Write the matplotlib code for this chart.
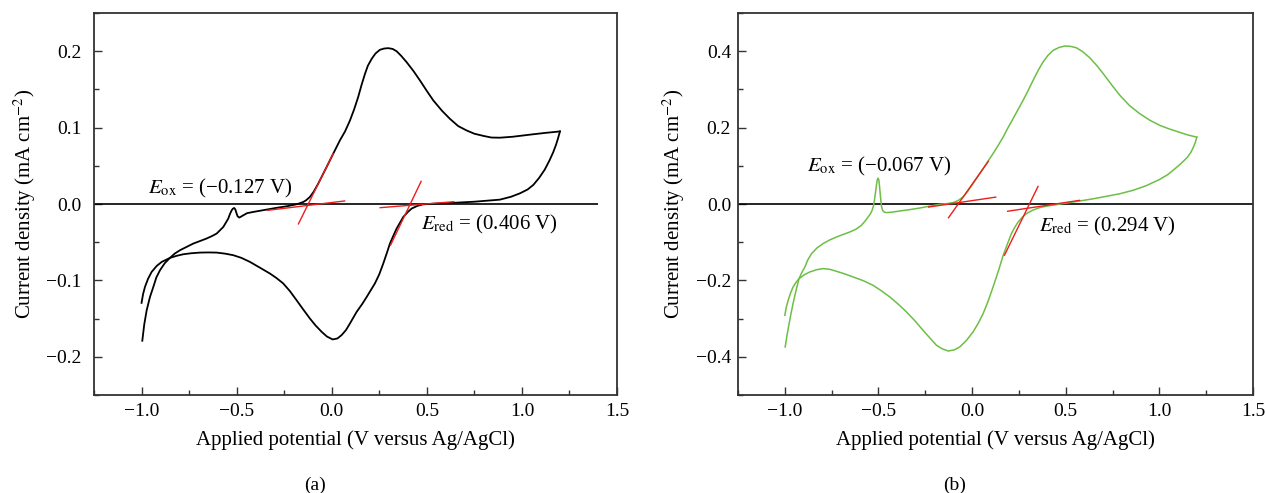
import matplotlib
matplotlib.use('agg')
import matplotlib.pyplot as plt
from matplotlib.ticker import MultipleLocator

plt.rcParams['font.family'] = ['Liberation Serif', 'DejaVu Serif']
plt.rcParams['mathtext.fontset'] = 'stix'

# ---- panel (a): black CV ----
# upper branch, from the right vertex back to -1.0 V
a_top_x = [1.2, 1.16, 1.12, 1.05, 0.95, 0.884, 0.84, 0.8, 0.75, 0.709, 0.665, 0.621, 0.58,
           0.534, 0.5, 0.464, 0.43, 0.394, 0.365, 0.341, 0.32, 0.297, 0.275, 0.253, 0.23,
           0.21, 0.19, 0.175, 0.157, 0.139, 0.118, 0.096, 0.07, 0.043, 0.008, -0.027, -0.071,
           -0.095, -0.115, -0.135, -0.15, -0.185, -0.237, -0.29, -0.342, -0.413, -0.445, -0.465,
           -0.486, -0.495, -0.5, -0.507, -0.513, -0.52, -0.526, -0.535, -0.544, -0.57, -0.605,
           -0.63, -0.658, -0.728, -0.798, -0.826, -0.851, -0.878, -0.903, -0.922, -0.938, -0.956,
           -0.973, -0.986, -0.996]
a_top_y = [0.095, 0.094, 0.093, 0.091, 0.088, 0.0868, 0.087, 0.089, 0.092, 0.0963, 0.102, 0.1116, 0.122,
           0.1356, 0.148, 0.1617, 0.174, 0.1856, 0.194, 0.200, 0.203, 0.204, 0.2035, 0.2018, 0.197,
           0.190, 0.181, 0.1705, 0.156, 0.140, 0.124, 0.1094, 0.095, 0.0833, 0.0659, 0.0484, 0.0267,
           0.016, 0.0092, 0.0048, 0.0026, -0.0004, -0.003, -0.005, -0.0073, -0.0104, -0.012, -0.0148,
           -0.0178, -0.016, -0.0126, -0.007, -0.0052, -0.0062, -0.0082, -0.013, -0.0191, -0.030, -0.0387,
           -0.042, -0.0452, -0.0518, -0.0605, -0.065, -0.0706, -0.0775, -0.0867, -0.096, -0.1085, -0.122,
           -0.139, -0.158, -0.179]
# lower branch, from -1.0 V to the right vertex
a_bot_x = [-1.0, -0.992, -0.982, -0.966, -0.947, -0.92, -0.894, -0.851, -0.815, -0.781, -0.74,
           -0.693, -0.65, -0.605, -0.56, -0.518, -0.475, -0.43, -0.38, -0.325, -0.29, -0.255,
           -0.22, -0.185, -0.15, -0.115, -0.085, -0.053, -0.025, 0.005, 0.03, 0.052, 0.075,
           0.096, 0.131, 0.16, 0.184, 0.205, 0.227, 0.25, 0.271, 0.29, 0.306, 0.325, 0.341,
           0.36, 0.376, 0.4, 0.42, 0.45, 0.481, 0.55, 0.621, 0.75, 0.884, 0.943, 0.99, 1.03,
           1.06, 1.09, 1.12, 1.145, 1.165, 1.18, 1.19, 1.2]
a_bot_y = [-0.1294, -0.118, -0.1085, -0.098, -0.0889, -0.081, -0.0758, -0.0706, -0.0678, -0.0658, -0.0645,
           -0.0636, -0.0634, -0.0636, -0.065, -0.067, -0.0705, -0.0758, -0.083, -0.091, -0.097, -0.104,
           -0.114, -0.1259, -0.138, -0.1498, -0.159, -0.1673, -0.1735, -0.1773, -0.176, -0.1716, -0.165,
           -0.1563, -0.1412, -0.131, -0.1216, -0.113, -0.104, -0.092, -0.0779, -0.064, -0.0518, -0.041, -0.0322,
           -0.024, -0.017, -0.0105, -0.006, -0.0025, -0.0004, 0.0006, 0.0013, 0.003, 0.0057, 0.0095, 0.014, 0.019,
           0.025, 0.034, 0.045, 0.057, 0.068, 0.078, 0.086, 0.095]
# tangent construction lines (start, end)
a_ox_steep_x = [-0.175, 0.0075]
a_ox_steep_y = [-0.026, 0.066]
a_ox_base_x = [-0.337, 0.068]
a_ox_base_y = [-0.0083, 0.004]
a_red_steep_x = [0.309, 0.47]
a_red_steep_y = [-0.054, 0.0296]
a_red_base_x = [0.255, 0.642]
a_red_base_y = [-0.0048, 0.003]

# ---- panel (b): green CV ----
b_top_x = [1.2, 1.15, 1.1, 1.05, 1.002, 0.95, 0.895, 0.84, 0.789, 0.745, 0.7, 0.665, 0.628,
           0.59, 0.557, 0.525, 0.495, 0.465, 0.432, 0.405, 0.379, 0.352, 0.326, 0.3, 0.272,
           0.245, 0.219, 0.19, 0.166, 0.14, 0.112, 0.085, 0.059, 0.032, 0.005, -0.022, -0.048,
           -0.075, -0.101, -0.135, -0.172, -0.225, -0.279, -0.33, -0.386, -0.43, -0.457, -0.47,
           -0.478, -0.484, -0.489, -0.494, -0.498, -0.502, -0.507, -0.512, -0.519, -0.526, -0.535,
           -0.545, -0.555, -0.572, -0.591, -0.62, -0.653, -0.69, -0.724, -0.76, -0.796, -0.828,
           -0.857, -0.877, -0.893, -0.91, -0.924, -0.94, -0.956, -0.967, -0.977, -0.988, -0.998]
b_top_y = [0.175, 0.181, 0.189, 0.197, 0.206, 0.219, 0.2366, 0.258, 0.2846, 0.312, 0.3414, 0.363, 0.383,
           0.399, 0.409, 0.4128, 0.4136, 0.410, 0.402, 0.389, 0.372, 0.349, 0.324, 0.298, 0.271,
           0.247, 0.2236, 0.198, 0.1754, 0.154, 0.132, 0.112, 0.0927, 0.073, 0.0534, 0.034, 0.0183,
           0.009, 0.0037, 0.001, -0.0008, -0.0055, -0.0105, -0.0145, -0.0183, -0.0215, -0.0225, -0.021,
           -0.0165, -0.005, 0.0183, 0.045, 0.063, 0.0675, 0.062, 0.045, 0.0183, -0.004, -0.018,
           -0.027, -0.034, -0.045, -0.0558, -0.066, -0.0733, -0.080, -0.0864, -0.094, -0.1037, -0.115,
           -0.1298, -0.146, -0.165, -0.180, -0.1953, -0.226, -0.2607, -0.287, -0.313, -0.343, -0.3743]
b_bot_x = [-1.0, -0.992, -0.982, -0.97, -0.956, -0.94, -0.924, -0.895, -0.867, -0.83, -0.796,
           -0.76, -0.724, -0.68, -0.635, -0.58, -0.529, -0.485, -0.439, -0.395, -0.35, -0.305,
           -0.262, -0.225, -0.19, -0.16, -0.128, -0.096, -0.066, -0.03, 0.005, 0.032, 0.059,
           0.085, 0.112, 0.14, 0.166, 0.19, 0.21, 0.228, 0.246, 0.268, 0.29, 0.325, 0.361,
           0.405, 0.451, 0.51, 0.575, 0.645, 0.718, 0.79, 0.86, 0.93, 1.0, 1.045, 1.085, 1.12,
           1.149, 1.168, 1.181, 1.192, 1.2]
b_bot_y = [-0.2914, -0.270, -0.2521, -0.234, -0.2173, -0.205, -0.1953, -0.185, -0.178, -0.172, -0.1691,
           -0.171, -0.1762, -0.183, -0.191, -0.201, -0.2128, -0.227, -0.2435, -0.262, -0.2827, -0.306,
           -0.3306, -0.351, -0.370, -0.379, -0.3848, -0.382, -0.3743, -0.357, -0.335, -0.313, -0.287,
           -0.255, -0.2173, -0.176, -0.1343, -0.103, -0.0775, -0.061, -0.0471, -0.035, -0.0251, -0.016, -0.0094,
           -0.005, -0.0016, 0.003, 0.0079, 0.0135, 0.0202, 0.027, 0.0359, 0.048, 0.064, 0.077, 0.093, 0.108,
           0.122, 0.135, 0.148, 0.161, 0.175]
b_ox_steep_x = [-0.126, 0.087]
b_ox_steep_y = [-0.036, 0.112]
b_ox_base_x = [-0.232, 0.126]
b_ox_base_y = [-0.008, 0.018]
b_red_steep_x = [0.173, 0.352]
b_red_steep_y = [-0.134, 0.046]
b_red_base_x = [0.19, 0.574]
b_red_base_y = [-0.019, 0.0096]

fig = plt.figure(figsize=(12.66, 4.93), dpi=100)
ax1 = fig.add_axes([94 / 1266, 0.1988, 523 / 1266, 0.7748])
ax2 = fig.add_axes([738 / 1266, 0.1988, 515 / 1266, 0.7748])

red = '#ee1c1c'
green = '#6cbf45'


def fmt(v, p):
    return ('%.1f' % v).replace('-', '\u2212')


def style(ax, ylim, major, minor, ypad):
    ax.set_xlim(-1.25, 1.5)
    ax.set_ylim(-ylim, ylim)
    ax.xaxis.set_major_locator(MultipleLocator(0.5))
    ax.xaxis.set_minor_locator(MultipleLocator(0.25))
    ax.yaxis.set_major_locator(MultipleLocator(major))
    ax.yaxis.set_minor_locator(MultipleLocator(minor))
    ax.xaxis.set_major_formatter(plt.FuncFormatter(fmt))
    ax.yaxis.set_major_formatter(plt.FuncFormatter(fmt))
    ax.tick_params(which='both', direction='in', top=False, right=False, labelsize=14, color='#333333')
    ax.tick_params(which='major', length=6, width=1)
    ax.tick_params(which='minor', length=3.5, width=1)
    ax.tick_params(axis='x', which='major', pad=6)
    ax.tick_params(axis='y', which='major', pad=ypad)
    for s in ax.spines.values():
        s.set_linewidth(1.3)
        s.set_color('#333333')
    ax.set_xlabel('Applied potential (V versus Ag/AgCl)', fontsize=15, labelpad=7)
    ax.set_ylabel('Current density (mA cm$^{-2}$)', fontsize=15, labelpad=6)


# panel (a)
style(ax1, 0.25, 0.1, 0.05, 9)
ax1.hlines(0, -1.25, 1.4, color='black', lw=1.2)
ax1.plot(a_top_x, a_top_y, color='black', lw=1.3, solid_joinstyle='round')
ax1.plot(a_bot_x, a_bot_y, color='black', lw=1.3, solid_joinstyle='round')
for xs, ys in [(a_ox_steep_x, a_ox_steep_y), (a_ox_base_x, a_ox_base_y),
               (a_red_steep_x, a_red_steep_y), (a_red_base_x, a_red_base_y)]:
    ax1.plot(xs, ys, color=red, lw=1.0)
ax1.text(-0.967, 0.0135, '$E_{\\rm ox}$ = (\u22120.127 V)', fontsize=15)
ax1.text(0.47, -0.034, '$E_{\\rm red}$ = (0.406 V)', fontsize=15)

# panel (b)
style(ax2, 0.5, 0.2, 0.1, 5)
ax2.hlines(0, -1.25, 1.5, color='black', lw=1.2)
ax2.plot(b_top_x, b_top_y, color=green, lw=1.1, solid_joinstyle='round')
ax2.plot(b_bot_x, b_bot_y, color=green, lw=1.1, solid_joinstyle='round')
for xs, ys in [(b_ox_steep_x, b_ox_steep_y), (b_ox_base_x, b_ox_base_y),
               (b_red_steep_x, b_red_steep_y), (b_red_base_x, b_red_base_y)]:
    ax2.plot(xs, ys, color=red, lw=1.0)
ax2.text(-0.881, 0.084, '$E_{\\rm ox}$ = (\u22120.067 V)', fontsize=15)
ax2.text(0.356, -0.071, '$E_{\\rm red}$ = (0.294 V)', fontsize=15)

fig.text(315 / 1266, 1 - 485 / 493, '(a)', ha='center', va='center', fontsize=14)
fig.text(955 / 1266, 1 - 485 / 493, '(b)', ha='center', va='center', fontsize=14)

fig.savefig('out.png', dpi=100)
